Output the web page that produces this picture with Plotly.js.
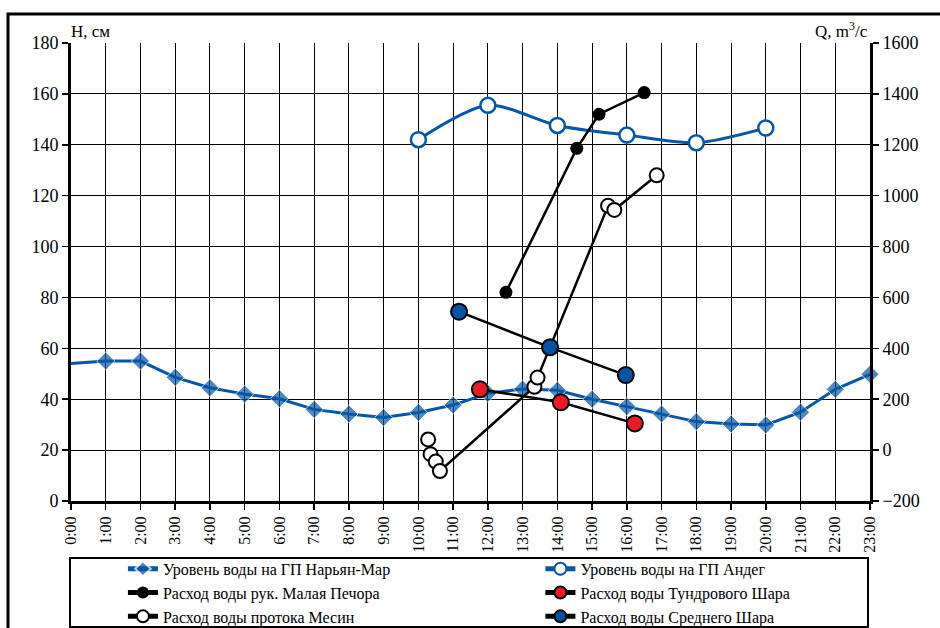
<!DOCTYPE html>
<html>
<head>
<meta charset="utf-8">
<script src="https://cdn.plot.ly/plotly-3.0.1.min.js"></script>
<style>
  html, body { margin: 0; padding: 0; background: #fff; }
  #chart { width: 940px; height: 628px; }
</style>
</head>
<body>
<div id="chart"></div>
<script>
// ---- Data ----
var hourLabels = ["0:00","1:00","2:00","3:00","4:00","5:00","6:00","7:00","8:00","9:00","10:00","11:00",
                  "12:00","13:00","14:00","15:00","16:00","17:00","18:00","19:00","20:00","21:00","22:00","23:00"];
var hours = [0,1,2,3,4,5,6,7,8,9,10,11,12,13,14,15,16,17,18,19,20,21,22,23];

// Уровень воды на ГП Нарьян-Мар, см (left axis)
var levelNaryanMar = [54, 55, 55, 48.6, 44.5, 42, 40.2, 36, 34.2, 32.8, 34.8, 37.7,
                      42.3, 44, 43.5, 40, 37.1, 34.2, 31.2, 30.3, 29.9, 34.9, 43.9, 49.8];

// Уровень воды на ГП Андег, см (left axis)
var andegTime  = [10, 12, 14, 16, 18, 20];
var levelAndeg = [142, 155.5, 147.6, 143.8, 140.8, 146.6];

// Расход воды рук. Малая Печора, м3/с (right axis)
var pechoraTime = [12.52, 14.56, 15.2, 16.5];
var qPechora    = [620, 1186, 1320, 1405];

// Расход воды протока Месин, м3/с (right axis)
var mesinTime = [10.28, 10.35, 10.5, 10.62, 13.34, 13.43, 15.46, 15.64, 16.86];
var qMesin    = [42, -16, -45, -82, 249, 285, 960, 944, 1080];

// Расход воды Тундрового Шара, м3/с (right axis)
var tundraTime = [11.77, 14.1, 16.23];
var qTundra    = [239, 188, 105];

// Расход воды Среднего Шара, м3/с (right axis)
var sredTime = [11.17, 13.79, 15.97];
var qSred    = [544, 404, 295];

var names = ["Уровень воды на ГП Нарьян-Мар", "Уровень воды на ГП Андег",
             "Расход воды рук. Малая Печора", "Расход воды Тундрового Шара",
             "Расход воды протока Месин", "Расход воды Среднего Шара"];

// ---- Styling ----
var BLUE = "#0456A8";
var RED = "#EC1C24";
var DBLUE = "#0352A4";

var nmSizes = levelNaryanMar.map(function (v, i) { return i === 0 ? 0 : 14; });

var traces = [
  { x: hours, y: levelNaryanMar, name: names[0], type: "scatter", mode: "lines+markers",
    line: { color: BLUE, width: 3 }, marker: { symbol: "diamond", size: nmSizes, color: BLUE },
    legend: "legend", cliponaxis: false },
  { x: andegTime, y: levelAndeg, name: names[1], type: "scatter", mode: "lines+markers",
    line: { color: BLUE, width: 3, shape: "spline", smoothing: 0.8 },
    marker: { symbol: "circle", size: 15, color: "#ffffff", line: { color: BLUE, width: 2.5 } },
    legend: "legend2" },
  { x: pechoraTime, y: qPechora, name: names[2], type: "scatter", mode: "lines+markers", yaxis: "y2",
    line: { color: "#000", width: 2.5 }, marker: { symbol: "circle", size: 13, color: "#000" },
    legend: "legend" },
  { x: tundraTime, y: qTundra, name: names[3], type: "scatter", mode: "lines+markers", yaxis: "y2",
    line: { color: "#000", width: 2.5 },
    marker: { symbol: "circle", size: 16, color: RED, line: { color: "#000", width: 2 } },
    legend: "legend2" },
  { x: mesinTime, y: qMesin, name: names[4], type: "scatter", mode: "lines+markers", yaxis: "y2",
    line: { color: "#000", width: 2.5 },
    marker: { symbol: "circle", size: 14, color: "#fff", line: { color: "#000", width: 2 } },
    legend: "legend" },
  { x: sredTime, y: qSred, name: names[5], type: "scatter", mode: "lines+markers", yaxis: "y2",
    line: { color: "#000", width: 2.5 },
    marker: { symbol: "circle", size: 16, color: DBLUE, line: { color: "#000", width: 2 } },
    legend: "legend2" }
];

var FONT = "Liberation Serif, Times New Roman, serif";
var legendFont = { family: FONT, size: 16, color: "#000" };

var layout = {
  width: 940, height: 628,
  margin: { l: 71, r: 70, t: 43, b: 127, autoexpand: false },
  paper_bgcolor: "#fff", plot_bgcolor: "#fff",
  font: { family: FONT, size: 16, color: "#000" },
  showlegend: true,
  xaxis: {
    range: [0, 23], tickvals: hours, ticktext: hourLabels, tickangle: -90,
    showgrid: true, gridcolor: "#000", gridwidth: 1,
    zeroline: false, showline: true, linecolor: "#000", linewidth: 3,
    ticks: "outside", ticklen: 6, tickwidth: 1.5, tickcolor: "#000",
    tickfont: { family: FONT, size: 16, color: "#000" }
  },
  yaxis: {
    range: [0, 180], tickvals: [0,20,40,60,80,100,120,140,160,180],
    showgrid: true, gridcolor: "#000", gridwidth: 1,
    zeroline: false, showline: true, linecolor: "#000", linewidth: 3,
    ticks: "outside", ticklen: 6, tickwidth: 1.5, tickcolor: "#000",
    tickfont: { family: FONT, size: 18, color: "#000" }
  },
  yaxis2: {
    overlaying: "y", side: "right", range: [-200, 1600],
    tickvals: [-200,0,200,400,600,800,1000,1200,1400,1600],
    showgrid: false, zeroline: false, showline: true, linecolor: "#000", linewidth: 3,
    ticks: "outside", ticklen: 6, tickwidth: 1.5, tickcolor: "#000",
    tickfont: { family: FONT, size: 18, color: "#000" }
  },
  legend: {
    x: 0.065, y: -0.111, xanchor: "left", yanchor: "top",
    bgcolor: "rgba(0,0,0,0)", borderwidth: 0, font: legendFont,
    tracegroupgap: 0, itemsizing: "constant"
  },
  legend2: {
    x: 0.5875, y: -0.111, xanchor: "left", yanchor: "top",
    bgcolor: "rgba(0,0,0,0)", borderwidth: 0, font: legendFont,
    tracegroupgap: 0, itemsizing: "constant"
  },
  annotations: [
    { xref: "paper", yref: "paper", x: -0.003, y: 1.0, xanchor: "left", yanchor: "bottom",
      text: "Н, см", showarrow: false, font: { family: FONT, size: 17, color: "#000" } },
    { xref: "paper", yref: "paper", x: 1.0, y: 1.0, xanchor: "right", yanchor: "bottom",
      text: "Q, m<sup>3</sup>/c", showarrow: false, font: { family: FONT, size: 17, color: "#000" } }
  ],
  shapes: [
    { type: "rect", xref: "paper", yref: "paper",
      x0: (8 - 71) / 799, x1: (960 - 71) / 799, y0: (501 - 660) / 458, y1: (501 - 14) / 458,
      line: { color: "#000", width: 3 }, fillcolor: "rgba(0,0,0,0)", layer: "below" },
    { type: "rect", xref: "paper", yref: "paper",
      x0: (70 - 71) / 799, x1: (868 - 71) / 799, y0: (501 - 627) / 458, y1: (501 - 558) / 458,
      line: { color: "#000", width: 2 }, fillcolor: "rgba(0,0,0,0)" }
  ]
};

Plotly.newPlot("chart", traces, layout, { displayModeBar: false, staticPlot: true });
</script>
</body>
</html>
